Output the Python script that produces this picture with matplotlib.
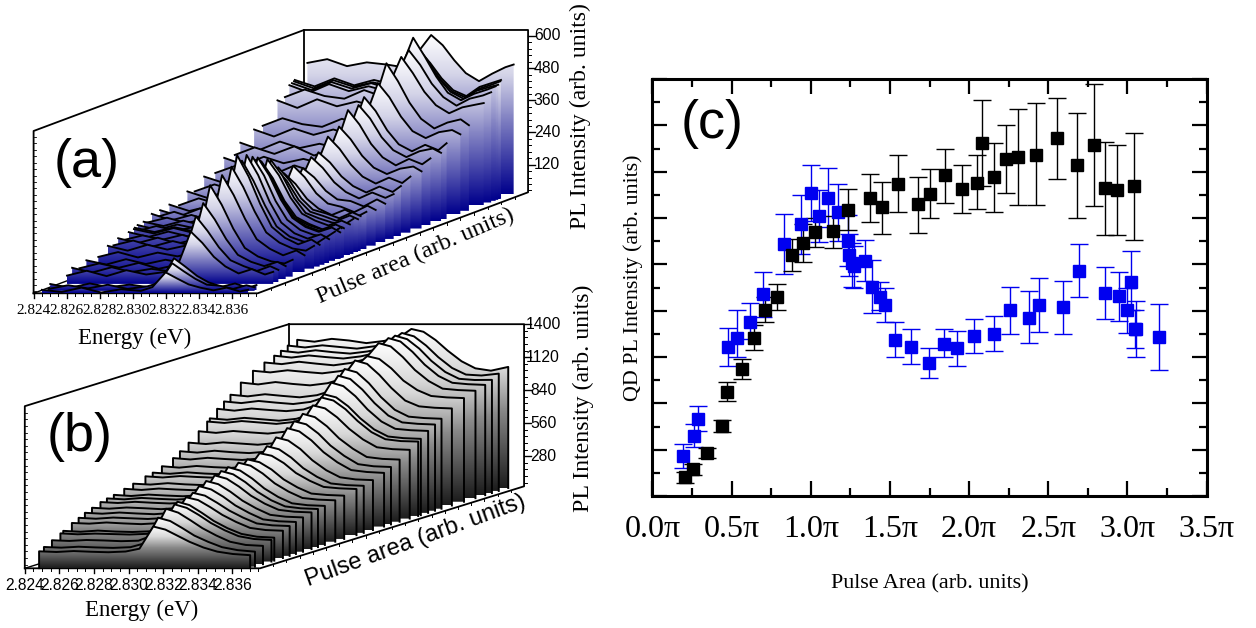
import numpy as np
import matplotlib
matplotlib.use('Agg')
import matplotlib.pyplot as plt
from matplotlib.colors import LinearSegmentedColormap
from matplotlib.patches import Polygon
from matplotlib.ticker import MultipleLocator, FuncFormatter

SERIF = 'Liberation Serif'
SANS = 'Liberation Sans'

# --- panel (c): pulse area / pi, intensity, error bar ends
black_x = [0.205, 0.258, 0.346, 0.439, 0.470, 0.565, 0.639, 0.708, 0.786, 0.879, 0.950,
           1.026, 1.140, 1.238, 1.373, 1.453, 1.554, 1.676, 1.752, 1.847, 1.958, 2.051,
           2.080, 2.160, 2.236, 2.307, 2.421, 2.554, 2.680, 2.787, 2.861, 2.936, 3.040]
black_y = [0.84, 1.15, 1.84, 3.02, 4.51, 5.49, 6.84, 8.04, 8.60, 10.41, 10.93,
           11.38, 11.42, 12.36, 12.86, 12.46, 13.48, 12.59, 13.05, 13.84, 13.26, 13.52,
           15.24, 13.75, 14.53, 14.62, 14.73, 15.45, 14.27, 15.16, 13.28, 13.21, 13.36]
black_hi = [1.05, 1.37, 2.06, 3.28, 4.90, 5.90, 7.36, 8.61, 9.16, 11.10, 11.74,
            12.00, 12.10, 13.26, 13.90, 13.55, 14.70, 13.75, 14.11, 14.99, 14.30, 14.70,
            17.11, 15.24, 16.00, 16.71, 16.95, 17.18, 16.52, 17.80, 15.28, 15.14, 15.67]
black_lo = [0.58, 0.91, 1.63, 2.75, 4.08, 5.05, 6.31, 7.50, 8.04, 9.72, 10.12,
            10.74, 10.71, 11.49, 11.81, 11.32, 12.27, 11.36, 12.00, 12.66, 12.21, 12.37,
            13.36, 12.27, 13.08, 12.54, 12.54, 13.70, 12.02, 12.51, 11.26, 11.26, 11.06]

blue_x = [0.190, 0.264, 0.285, 0.475, 0.533, 0.616, 0.695, 0.830, 0.938, 1.001,
          1.055, 1.108, 1.175, 1.234, 1.243, 1.262, 1.276, 1.344, 1.384, 1.436,
          1.466, 1.531, 1.636, 1.744, 1.840, 1.922, 2.030, 2.156, 2.257, 2.377,
          2.440, 2.596, 2.693, 2.861, 2.945, 2.996, 3.025, 3.048, 3.057, 3.200]
blue_y = [1.74, 2.61, 3.34, 6.44, 6.84, 7.53, 8.70, 10.89, 11.72, 13.06,
          12.07, 12.86, 12.26, 11.02, 10.40, 10.05, 9.91, 10.15, 9.03, 8.61,
          8.25, 6.75, 6.44, 5.75, 6.58, 6.39, 6.91, 7.01, 8.04, 7.70,
          8.25, 8.14, 9.72, 8.77, 8.64, 8.01, 9.25, 7.21, 7.20, 6.88]
blue_hi = [2.25, 3.11, 3.89, 7.27, 8.05, 8.31, 9.69, 12.18, 12.98, 14.27,
           13.19, 14.14, 13.48, 12.11, 11.32, 10.92, 10.77, 11.06, 10.20, 9.23,
           8.97, 7.53, 7.19, 6.37, 7.19, 7.14, 7.65, 7.79, 9.04, 8.83,
           9.40, 9.26, 10.87, 9.88, 9.69, 8.97, 10.58, 8.01, 8.41, 8.29]
blue_lo = [1.22, 2.10, 2.81, 5.59, 5.99, 6.78, 7.72, 9.58, 10.46, 11.85,
           10.96, 11.59, 11.02, 9.91, 9.48, 9.04, 8.97, 9.26, 7.88, 8.01,
           7.50, 5.99, 5.69, 5.10, 6.01, 5.60, 6.16, 6.24, 7.01, 6.61,
           7.10, 7.01, 8.57, 7.63, 7.56, 7.04, 8.01, 6.38, 5.98, 5.46]

# --- panel (a): one spectrum per blue_x value
energy_a = [2.8245, 2.8257, 2.8269, 2.8281, 2.8293, 2.8305, 2.8312, 2.8320,
            2.8327, 2.8334, 2.8341, 2.8349, 2.8357, 2.8365, 2.8370]
spectra_a = [
    [30, 22, 38, 20, 32, 26, 40, 95, 72, 50, 38, 28, 38, 24, 30],
    [24, 38, 26, 40, 24, 34, 46, 120, 90, 62, 40, 36, 24, 38, 30],
    [40, 26, 42, 28, 38, 28, 52, 136, 104, 70, 46, 30, 42, 26, 36],
    [48, 66, 46, 68, 52, 62, 84, 212, 170, 118, 82, 56, 72, 52, 62],
    [70, 52, 72, 54, 66, 56, 98, 262, 208, 146, 98, 76, 58, 76, 62],
    [58, 76, 60, 78, 56, 72, 112, 301, 240, 166, 108, 82, 66, 82, 66],
    [78, 62, 82, 64, 80, 66, 128, 358, 285, 196, 124, 92, 74, 66, 80],
    [74, 92, 72, 90, 76, 94, 146, 379, 305, 215, 140, 104, 80, 98, 80],
    [102, 84, 106, 88, 104, 90, 162, 397, 322, 230, 152, 114, 92, 84, 102],
    [96, 114, 92, 112, 94, 110, 178, 432, 352, 250, 165, 124, 100, 118, 98],
    [116, 98, 118, 96, 114, 100, 176, 405, 330, 238, 160, 122, 104, 96, 116],
    [102, 120, 104, 122, 100, 118, 186, 420, 345, 245, 168, 128, 108, 124, 106],
    [124, 106, 126, 108, 122, 110, 190, 405, 335, 240, 170, 132, 114, 106, 126],
    [128, 112, 132, 114, 126, 120, 192, 395, 328, 238, 170, 136, 118, 134, 116],
    [132, 116, 134, 118, 136, 120, 192, 385, 320, 232, 168, 138, 120, 114, 134],
    [116, 136, 118, 134, 120, 138, 194, 380, 316, 230, 166, 140, 124, 118, 130],
    [138, 120, 140, 124, 132, 126, 196, 375, 312, 228, 168, 142, 122, 140, 126],
    [142, 126, 146, 128, 144, 130, 198, 375, 315, 232, 172, 146, 128, 146, 132],
    [134, 152, 132, 150, 136, 148, 200, 367, 308, 226, 170, 150, 134, 128, 148],
    [160, 136, 156, 134, 152, 140, 192, 330, 282, 212, 168, 152, 134, 154, 140],
    [142, 164, 140, 166, 156, 144, 196, 330, 280, 214, 172, 158, 140, 162, 148],
    [162, 140, 168, 144, 142, 162, 186, 300, 260, 204, 168, 144, 164, 140, 156],
    [170, 146, 164, 142, 172, 148, 192, 315, 272, 212, 174, 162, 142, 166, 150],
    [154, 180, 158, 182, 152, 174, 192, 293, 258, 208, 176, 170, 150, 176, 160],
    [194, 170, 196, 172, 190, 174, 212, 322, 282, 228, 192, 168, 190, 170, 184],
    [184, 210, 188, 212, 182, 204, 226, 330, 292, 240, 204, 180, 202, 182, 204],
    [226, 202, 232, 206, 224, 208, 252, 375, 330, 270, 226, 200, 222, 202, 226],
    [224, 250, 230, 220, 252, 228, 272, 397, 350, 288, 244, 220, 240, 248, 230],
    [268, 242, 272, 248, 264, 246, 298, 446, 392, 320, 270, 240, 264, 244, 266],
    [264, 292, 268, 296, 262, 286, 320, 450, 400, 330, 282, 256, 278, 288, 272],
    [302, 276, 306, 282, 298, 280, 336, 472, 420, 348, 296, 270, 294, 274, 300],
    [332, 306, 336, 312, 332, 310, 372, 505, 452, 380, 326, 300, 322, 330, 314],
    [334, 362, 340, 330, 360, 338, 410, 567, 500, 420, 360, 324, 346, 358, 336],
    [408, 380, 412, 386, 404, 384, 456, 570, 510, 440, 390, 360, 382, 392, 398],
    [410, 438, 414, 404, 436, 410, 480, 585, 530, 460, 410, 378, 404, 416, 428],
    [448, 420, 452, 426, 444, 424, 500, 625, 555, 480, 420, 392, 416, 432, 444],
    [452, 426, 456, 432, 452, 430, 500, 595, 540, 470, 420, 394, 424, 438, 446],
    [456, 430, 460, 436, 452, 434, 496, 560, 518, 462, 418, 396, 428, 444, 456],
    [460, 436, 466, 440, 460, 442, 504, 570, 524, 466, 422, 400, 434, 450, 460],
    [506, 520, 494, 508, 500, 488, 546, 610, 572, 516, 468, 438, 466, 490, 500],
]

# --- panel (b): one spectrum per black_x value
energy_b = [2.8248, 2.8258, 2.8268, 2.8278, 2.8288, 2.8298, 2.8306, 2.8314,
            2.8321, 2.8328, 2.8335, 2.8343, 2.8351, 2.8360, 2.8370]
spectra_b = [
    [168, 162, 170, 164, 160, 166, 190, 378, 352, 300, 248, 200, 165, 145, 135],
    [192, 186, 194, 188, 184, 190, 222, 440, 412, 352, 288, 235, 190, 165, 152],
    [228, 222, 230, 226, 220, 224, 268, 495, 462, 398, 330, 268, 215, 188, 180],
    [264, 256, 262, 258, 254, 260, 300, 510, 480, 420, 352, 290, 240, 216, 208],
    [278, 270, 280, 272, 268, 274, 316, 525, 496, 432, 362, 300, 252, 228, 220],
    [322, 316, 326, 318, 312, 320, 356, 540, 516, 456, 390, 330, 280, 262, 256],
    [348, 340, 350, 344, 338, 346, 382, 560, 536, 476, 410, 350, 300, 284, 278],
    [374, 366, 376, 368, 362, 372, 412, 600, 572, 510, 436, 372, 318, 302, 296],
    [398, 390, 400, 394, 386, 396, 436, 625, 598, 534, 458, 392, 338, 322, 316],
    [424, 416, 426, 418, 412, 420, 462, 650, 622, 556, 478, 410, 358, 342, 336],
    [438, 430, 442, 434, 428, 436, 478, 670, 642, 576, 494, 422, 370, 354, 348],
    [450, 440, 452, 444, 438, 446, 490, 685, 656, 588, 504, 432, 378, 362, 356],
    [474, 464, 476, 468, 462, 472, 512, 695, 670, 604, 520, 450, 396, 382, 376],
    [494, 486, 498, 488, 482, 490, 528, 700, 676, 614, 530, 462, 410, 398, 392],
    [524, 514, 526, 518, 512, 522, 558, 720, 698, 636, 552, 486, 434, 422, 416],
    [536, 526, 538, 528, 522, 532, 572, 760, 734, 664, 574, 500, 444, 430, 424],
    [566, 554, 568, 558, 552, 562, 606, 810, 784, 712, 616, 532, 472, 454, 448],
    [606, 594, 608, 598, 590, 602, 648, 860, 832, 756, 656, 570, 504, 488, 480],
    [646, 634, 650, 638, 630, 642, 688, 900, 874, 796, 694, 606, 536, 518, 512],
    [696, 684, 698, 688, 678, 692, 736, 940, 912, 834, 732, 644, 574, 558, 552],
    [766, 752, 768, 756, 746, 762, 800, 985, 960, 884, 786, 696, 630, 614, 608],
    [826, 814, 830, 818, 806, 822, 858, 1030, 1004, 930, 830, 736, 676, 660, 656],
    [846, 834, 850, 838, 826, 842, 878, 1050, 1024, 948, 846, 752, 692, 678, 672],
    [908, 892, 910, 898, 888, 902, 942, 1130, 1100, 1014, 902, 800, 738, 726, 720],
    [952, 938, 956, 942, 930, 948, 986, 1170, 1142, 1052, 938, 832, 774, 762, 756],
    [992, 978, 996, 982, 970, 988, 1024, 1210, 1182, 1090, 972, 864, 806, 794, 788],
    [1068, 1052, 1072, 1056, 1044, 1062, 1096, 1255, 1226, 1134, 1022, 915, 866, 854, 848],
    [1136, 1122, 1140, 1126, 1114, 1132, 1154, 1260, 1236, 1156, 1052, 972, 922, 910, 904],
    [1176, 1162, 1182, 1166, 1152, 1172, 1202, 1340, 1312, 1222, 1112, 1018, 954, 942, 936],
    [1208, 1192, 1210, 1196, 1184, 1202, 1228, 1357, 1328, 1240, 1132, 1036, 978, 966, 960],
    [1232, 1216, 1236, 1220, 1208, 1226, 1250, 1360, 1330, 1250, 1146, 1052, 994, 984, 985],
    [1258, 1242, 1260, 1246, 1232, 1252, 1272, 1365, 1336, 1258, 1160, 1068, 1012, 1004, 1020],
    [1282, 1266, 1290, 1276, 1254, 1272, 1292, 1374, 1350, 1280, 1190, 1100, 1040, 1020, 1052],
]

energy_ticks = [2.824, 2.826, 2.828, 2.830, 2.832, 2.834, 2.836]
intensity_ticks_a = [120, 240, 360, 480, 600]
intensity_ticks_b = [280, 560, 840, 1120, 1400]

fig = plt.figure(figsize=(12.56, 6.28), dpi=100)
ov = fig.add_axes([0, 0, 1, 1])
ov.set_xlim(0, 1256)
ov.set_ylim(628, 0)
ov.axis('off')


def waterfall(pulses, spectra, energies, geo, cmap, closed, zticks, zminor):
    e0, z0 = geo['e0'], geo['z0']

    def proj(e, depth, z):
        px = geo['ox'] + (np.asarray(e) - e0) * geo['sx'] + depth * geo['dx']
        py = geo['oy'] + depth * geo['dy'] - (np.asarray(z) - z0) * geo['sz']
        return px, py

    xe = geo['emax']
    ztop = geo['zmax']
    corner = [proj(e0, 0, z0), proj(e0, 0, ztop), proj(e0, 1, ztop), proj(xe, 1, ztop),
              proj(xe, 1, z0), proj(xe, 0, z0), proj(e0, 0, z0)]
    ov.plot(*zip(*corner), color='black', lw=1.3, zorder=1)
    ov.plot(*zip(proj(e0, 0, z0), proj(e0, 1, z0)), color='black', lw=1, zorder=1)
    ov.plot(*zip(proj(e0, 1, ztop), proj(e0, 1, z0)), color='black', lw=1.3, zorder=1)

    grad = np.linspace(1, 0, 128).reshape(-1, 1)
    order = np.argsort(pulses)[::-1]
    for k, i in enumerate(order):
        depth = (pulses[i] - geo['p0']) / geo['pspan']
        px, py = proj(energies, depth, spectra[i])
        bx, by = proj(energies[0], depth, z0)
        ex, ey = proj(energies[-1], depth, z0)
        verts = [(bx, by)] + list(zip(px, py)) + [(ex, ey)]
        zo = 10 + 2 * k
        top = py.min()
        im = ov.imshow(grad, cmap=cmap, vmin=0, vmax=1, aspect='auto', interpolation='bilinear',
                       extent=(bx, ex, by, top), zorder=zo)
        patch = Polygon(verts, closed=True, facecolor='none', edgecolor='none', transform=ov.transData)
        ov.add_patch(patch)
        im.set_clip_path(patch)
        if closed:
            ov.plot([v[0] for v in verts], [v[1] for v in verts], color='black', lw=1.4, zorder=zo + 1,
                    solid_joinstyle='round')
        else:
            ov.plot(px, py, color='black', lw=1.35, zorder=zo + 1, solid_joinstyle='round')

    # axis ticks
    for e in np.arange(e0, xe, 0.0005):
        px, py = proj(e, 0, z0)
        ov.plot([px, px], [py, py + 3], color='black', lw=0.7, zorder=5)
    for e in energy_ticks:
        px, py = proj(e, 0, z0)
        ov.plot([px, px], [py, py + 5], color='black', lw=1, zorder=5)
        ov.text(px, py + geo['elabel'], '%.3f' % e, ha='center', va='center', **geo['efont'])
    for z in np.arange(zminor, ztop, zminor):
        px, py = proj(xe, 1, z)
        ov.plot([px, px + 3], [py, py], color='black', lw=0.7, zorder=5)
        px, py = proj(e0, 0, z)
        ov.plot([px, px + 2], [py, py], color='black', lw=0.6, zorder=5)
    for z in zticks:
        px, py = proj(xe, 1, z)
        ov.plot([px, px + 7], [py, py], color='black', lw=1, zorder=5)
        ov.text(px + 19, py, str(z), ha='center', va='center', family=SANS, fontsize=11.3)
    for d in np.arange(0.05, 1, 0.05):
        px, py = proj(xe, d, z0)
        ov.plot([px, px], [py, py + 2], color='black', lw=0.7, zorder=5)


geo_a = dict(ox=33.6, oy=293.3, e0=2.824, emax=2.83758, sx=16500, dx=270.4, dy=-101,
             z0=17, zmax=622, sz=0.2683, p0=0.19, pspan=3.065, elabel=17,
             efont=dict(family=SERIF, fontsize=11))
geo_b = dict(ox=24.8, oy=568.3, e0=2.824, emax=2.8376, sx=17300, dx=264, dy=-82,
             z0=25, zmax=1400, sz=0.1179, p0=0.2, pspan=2.9, elabel=17,
             efont=dict(family=SANS, fontsize=11.2))

cmap_a = LinearSegmentedColormap.from_list(
    'navy_white', [(0, '#00008c'), (0.5, '#8a8ac6'), (0.75, '#d4d4e8'), (1, '#ffffff')])
cmap_b = LinearSegmentedColormap.from_list(
    'black_white', [(0, '#1c1c1c'), (0.5, '#8c8c8c'), (0.75, '#d8d8d8'), (1, '#ffffff')])

waterfall(blue_x, spectra_a, energy_a, geo_a, cmap_a, False, intensity_ticks_a, 24)
waterfall(black_x, spectra_b, energy_b, geo_b, cmap_b, True, intensity_ticks_b, 56)

ov.set_xlim(0, 1256)
ov.set_ylim(628, 0)

# --- labels
ov.text(87, 163, '(a)', family=SANS, fontsize=39, ha='center', va='center')
ov.text(80, 437, '(b)', family=SANS, fontsize=39, ha='center', va='center')
ov.text(135, 338, 'Energy (eV)', family=SERIF, fontsize=16.5, ha='center', va='center')
ov.text(142, 610, 'Energy (eV)', family=SERIF, fontsize=16.5, ha='center', va='center')
ov.text(416, 256, 'Pulse area (arb. units)', family=SERIF, fontsize=17.5, rotation=23.3,
        ha='center', va='center', rotation_mode='anchor')
ov.text(416, 541, 'Pulse area (arb. units)', family=SANS, fontsize=17, rotation=20,
        ha='center', va='center', rotation_mode='anchor')
ov.text(580, 116, 'PL Intensity (arb. units)', family=SERIF, fontsize=17.1, rotation=90,
        ha='center', va='center')
ov.text(583, 398, 'PL Intensity (arb. units)', family=SERIF, fontsize=17.2, rotation=90,
        ha='center', va='center')
ov.text(633, 278, 'QD PL Intensity (arb. units)', family=SERIF, fontsize=15.8, rotation=90,
        ha='center', va='center')
ov.text(930, 584, 'Pulse Area (arb. units)', family=SERIF, fontsize=15.9, ha='center', va='center')

# --- panel (c)
ax = fig.add_axes([652.5 / 1256, 1 - 496.0 / 628, 554.0 / 1256, 417.0 / 628])
for xs, ys, lo, hi, col in [(blue_x, blue_y, blue_lo, blue_hi, '#0000f0'),
                            (black_x, black_y, black_lo, black_hi, 'black')]:
    ys = np.array(ys)
    ax.errorbar(xs, ys, yerr=[ys - np.array(lo), np.array(hi) - ys], fmt='s', color=col, ms=8.6,
                elinewidth=1, capsize=6.5, capthick=1)
ax.text(0.107, 0.893, '(c)', transform=ax.transAxes, family=SANS, fontsize=39, ha='center', va='center')
ax.set_xlim(0, 3.5)
ax.set_ylim(0, 18)
ax.xaxis.set_major_locator(MultipleLocator(0.5))
ax.xaxis.set_minor_locator(MultipleLocator(0.25))
ax.yaxis.set_major_locator(MultipleLocator(2))
ax.yaxis.set_minor_locator(MultipleLocator(1))
ax.xaxis.set_major_formatter(FuncFormatter(lambda v, p: '%.1f\u03c0' % v))
ax.yaxis.set_major_formatter(FuncFormatter(lambda v, p: ''))
ax.tick_params(which='major', direction='in', top=True, right=True, length=11, width=1.6)
ax.tick_params(which='minor', direction='in', top=True, right=True, length=6, width=1.6)
ax.tick_params(axis='x', which='major', pad=14)
for lab in ax.get_xticklabels():
    lab.set_fontfamily(SERIF)
    lab.set_fontsize(23)
for s in ax.spines.values():
    s.set_linewidth(2.2)

fig.savefig('out.png', dpi=100)
